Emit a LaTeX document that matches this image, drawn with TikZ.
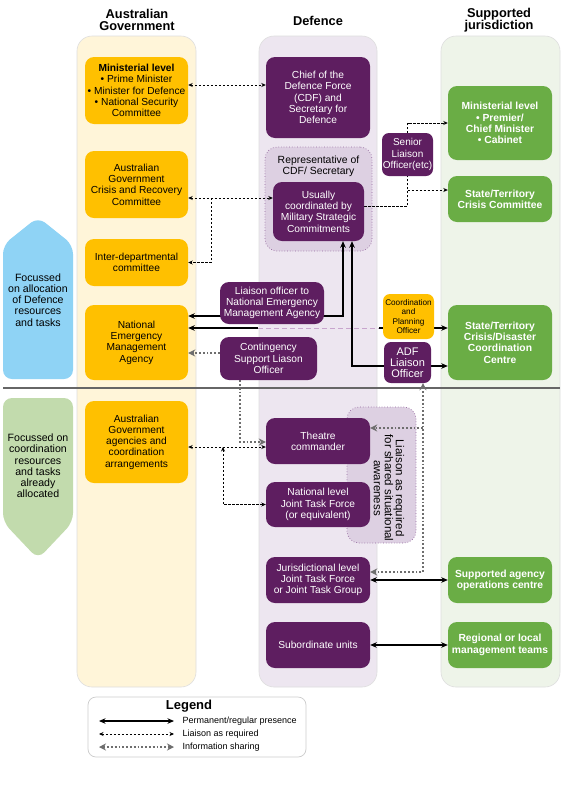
\documentclass[tikz,border=0pt]{standalone}
\usepackage{fontspec}
\setmainfont{Liberation Sans}
\usetikzlibrary{arrows.meta}
\definecolor{agorange}{RGB}{255,192,0}
\definecolor{defpurple}{RGB}{94,30,96}
\definecolor{sjgreen}{RGB}{106,173,69}
\definecolor{agcol}{RGB}{255,245,217}
\definecolor{defcol}{RGB}{237,230,240}
\definecolor{sjcol}{RGB}{238,244,233}
\definecolor{holderfill}{RGB}{221,208,226}
\definecolor{holderline}{RGB}{150,105,160}
\definecolor{blueblob}{RGB}{143,211,245}
\definecolor{greenblob}{RGB}{194,219,173}
\definecolor{infogray}{RGB}{110,110,110}
\definecolor{pinkline}{RGB}{200,165,205}
\pgfdeclarelayer{back}
\pgfdeclarelayer{lines}
\pgfsetlayers{back,lines,main}
\tikzset{
  column/.style={draw=black!13, line width=0.6pt, rounded corners=15pt},
  box/.style={rounded corners=9pt, align=center, inner sep=0pt, font=\fontsize{10.2}{11.3}\selectfont},
  agbox/.style={box, fill=agorange, minimum width=103pt},
  defbox/.style={box, fill=defpurple, text=white, minimum width=104pt},
  sjbox/.style={box, fill=sjgreen, text=white, minimum width=104pt, font=\fontsize{10.3}{11.3}\selectfont\bfseries},
  holder/.style={draw=holderline, dotted, fill=holderfill, rounded corners=12pt, line width=0.7pt},
  heading/.style={align=center, font=\fontsize{12.8}{12}\selectfont\bfseries},
  blobtext/.style={align=center, font=\fontsize{10.6}{11.2}\selectfont},
  perm/.style={line width=1.4pt, >={Stealth[length=6.5pt,width=5.5pt]}},
  liaison/.style={line width=0.7pt, dash pattern=on 2.4pt off 1.6pt, >={Stealth[length=4.5pt,width=4pt]}},
  info/.style={draw=infogray, line width=1.8pt, dash pattern=on 1.8pt off 2pt, >={Stealth[length=7pt,width=7pt]}},
  legtext/.style={anchor=west, font=\fontsize{9}{10}\selectfont},
}
\begin{document}
\begin{tikzpicture}[x=1pt, y=-1pt]
\useasboundingbox (0,0) rectangle (562,793);

% columns, side notes and holders
\begin{pgfonlayer}{back}
  \fill[white] (0,0) rectangle (562,793);
  \draw[column, fill=agcol] (77,36) rectangle (196,687);
  \draw[column, fill=defcol] (259,36) rectangle (377,687);
  \draw[column, fill=sjcol] (441,36) rectangle (560,687);
  \fill[blueblob, rounded corners=9pt] (3,245) -- (38,217) -- (73,245) -- (73,379) -- (3,379) -- cycle;
  \fill[greenblob, rounded corners=9pt] (3,398) -- (73,398) -- (73,522) -- (38,559) -- (3,522) -- cycle;
  \draw[black!60, line width=1.5pt] (3,388) -- (560,388);
  \node[holder, minimum width=107pt, minimum height=104pt] (repholder) at (318.5,199) {};
  \node[holder, minimum width=69pt, minimum height=136pt] (awareholder) at (381.5,475) {};
\end{pgfonlayer}

% headings
\node[heading] (aghead) at (137,20) {Australian\\Government};
\node[heading] (defhead) at (318,21) {Defence};
\node[heading] (sjhead) at (499,20) {Supported\\jurisdiction};

\node[blobtext] (alloctext) at (38,300) {Focussed\\on allocation\\of Defence\\resources\\and tasks};
\node[blobtext] (coordtext) at (38,466) {Focussed on\\coordination\\resources\\and tasks\\already\\allocated};

% Australian Government
\node[agbox, minimum height=67pt] (agmin) at (136.5,90.5) {\textbf{Ministerial level}\\• Prime Minister\\• Minister for Defence\\• National Security\\Committee};
\node[agbox, minimum height=67pt] (agcrc) at (136.5,184.5) {Australian\\Government\\Crisis and Recovery\\Committee};
\node[agbox, minimum height=47pt] (agidc) at (136.5,262.5) {Inter-departmental\\committee};
\node[agbox, minimum height=75pt] (nema) at (136.5,342.5) {National\\Emergency\\Management\\Agency};
\node[agbox, minimum height=82pt] (agagency) at (136.5,442) {Australian\\Government\\agencies and\\coordination\\arrangements};

% Defence
\node[defbox, minimum height=81pt] (cdf) at (318,97.5) {Chief of the\\Defence Force\\(CDF) and\\Secretary for\\Defence};
\node[align=center, font=\fontsize{10.4}{11.3}\selectfont] (reptext) at (318.5,166) {Representative of\\CDF/ Secretary};
\node[defbox, minimum width=91pt, minimum height=59pt] (msc) at (318.5,211.5) {Usually\\coordinated by\\Military Strategic\\Commitments};
\node[defbox, minimum width=51pt, minimum height=43pt, rounded corners=7pt, font=\fontsize{10}{11.5}\selectfont] (slo) at (407.5,154.5) {Senior\\Liaison\\Officer(etc)};
\node[defbox, minimum height=42pt] (lonema) at (272,303) {Liaison officer to\\National Emergency\\Management Agency};
\node[defbox, minimum width=97pt, minimum height=43pt] (cslo) at (268.5,358.5) {Contingency\\Support Liason\\Officer};
\node[agbox, minimum width=51pt, minimum height=45pt, rounded corners=7pt, font=\fontsize{8.2}{9.3}\selectfont] (cpo) at (408.5,316.5) {Coordination\\and\\Planning\\Officer};
\node[defbox, minimum width=47pt, minimum height=41pt, rounded corners=7pt, font=\fontsize{11}{10.8}\selectfont] (adflo) at (407.5,362.5) {ADF\\Liaison\\Officer};
\node[defbox, minimum height=46pt] (theatre) at (318,441) {Theatre\\commander};
\node[rotate=-90, align=center, font=\fontsize{11.5}{11}\selectfont] (awaretext) at (389,488) {Liaison as required\\for shared situational\\awareness};
\node[defbox, minimum height=45pt] (njtf) at (318,504.5) {National level\\Joint Task Force\\(or equivalent)};
\node[defbox, minimum height=46pt] (jjtf) at (318,580) {Jurisdictional level\\Joint Task Force\\or Joint Task Group};
\node[defbox, minimum height=46pt] (subunits) at (318,645) {Subordinate units};

% Supported jurisdiction
\node[sjbox, minimum height=74pt] (sjmin) at (500,123) {Ministerial level\\• Premier/\\Chief Minister\\• Cabinet};
\node[sjbox, minimum height=46pt] (sjcc) at (500,199) {State/Territory\\Crisis Committee};
\node[sjbox, minimum height=75pt] (sjccc) at (500,342.5) {State/Territory\\Crisis/Disaster\\Coordination\\Centre};
\node[sjbox, minimum height=46pt] (sjagency) at (500,580) {Supported agency\\operations centre};
\node[sjbox, minimum height=46pt] (sjregional) at (500,645) {Regional or local\\management teams};

% connectors
\begin{pgfonlayer}{lines}
  \coordinate (crcjoin) at (211,198);
  \coordinate (agjoin) at (223,447);
  \coordinate (pinkleft) at (258,328);
  \coordinate (pinkright) at (379,328);
  \coordinate (infojoin) at (423,428);
  \draw[liaison,<->] (agmin.east |- 0,85) -- (cdf.west |- 0,85);
  \draw[liaison,<->] (agcrc.east |- 0,198) -- (msc.west |- 0,198);
  \draw[liaison,->] (crcjoin) |- (agidc.east);
  \draw[liaison,->] (msc.east |- 0,206) -| (slo.north |- sjmin.west) -- (sjmin.west);
  \draw[liaison,->] (slo.south |- 0,190) -- (sjcc.west |- 0,190);
  \draw[perm,<->] (nema.east |- 0,316) -| (msc.south -| 343,0);
  \draw[perm,<->] (msc.south -| 352,0) |- (sjccc.west |- 0,366);
  \draw[perm,<-] (nema.east |- pinkleft) -- (pinkleft);
  \draw[pinkline, line width=1pt, dash pattern=on 5pt off 3pt] (pinkleft) -- (pinkright);
  \draw[perm,->] (pinkright) -- (sjccc.west |- pinkright);
  \draw[info,->] (cslo.west |- 0,353) -- (nema.east |- 0,353);
  \draw[info,->] (cslo.south -| 240,0) |- (theatre.west |- 0,442);
  \draw[liaison,<->] (agagency.east |- agjoin) -- (theatre.west |- agjoin);
  \draw[liaison,<->] (agjoin) |- (njtf.west);
  \draw[info,<->] (adflo.south -| 423,0) |- (jjtf.east |- 0,572);
  \draw[info,->] (infojoin) -- (theatre.east |- infojoin);
  \draw[perm,<->] (jjtf.east) -- (sjagency.west);
  \draw[perm,<->] (subunits.east) -- (sjregional.west);
\end{pgfonlayer}

% legend
\node[draw=black!20, line width=0.7pt, rounded corners=8pt, minimum width=218pt, minimum height=60pt] (legend) at (197,727) {};
\node[font=\fontsize{13}{13}\selectfont\bfseries] (legtitle) at (189,706) {Legend};
\coordinate (permleft) at (99,721);
\coordinate (permright) at (174,721);
\coordinate (liaisonleft) at (99,734);
\coordinate (liaisonright) at (174,734);
\coordinate (infoleft) at (99,747);
\coordinate (inforight) at (174,747);
\draw[perm,<->] (permleft) -- (permright);
\draw[liaison,<->] (liaisonleft) -- (liaisonright);
\draw[info,<->] (infoleft) -- (inforight);
\node[legtext] (permtext) at (179,721) {Permanent/regular presence};
\node[legtext] (liaisontext) at (179,734) {Liaison as required};
\node[legtext] (infotext) at (179,747) {Information sharing};
\end{tikzpicture}
\end{document}
